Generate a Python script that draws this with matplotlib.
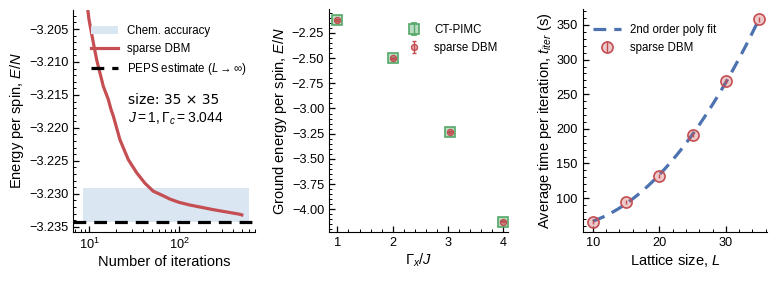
import matplotlib

matplotlib.use("Agg")
import matplotlib.pyplot as plt
import numpy as np
from matplotlib.patches import Patch
from matplotlib.lines import Line2D
from matplotlib.ticker import FuncFormatter

# panel (a): convergence of sparse DBM, 35x35 lattice
iterations = [9.3, 9.92, 11.08, 12.08, 14.3, 16.26, 17.42, 18.48, 21.9, 27.1, 33.6,
              41.6, 51.4, 66.4, 78.8, 100, 131.5, 238.7, 472.4, 497]
energy_iter = [-3.2005, -3.2036, -3.2071, -3.2097, -3.2137, -3.2157, -3.2172, -3.2182,
               -3.2218, -3.2248, -3.2268, -3.2284, -3.2296, -3.2303, -3.2308, -3.2313,
               -3.2317, -3.2324, -3.2331, -3.2332]
peps_energy = -3.2342
chem_band = (-3.2342, -3.2291)
band_x = (8.4, 590)

# panel (b): ground energy vs transverse field
gamma = [1.0, 2.0, 3.044, 4.0]
e_pimc = [-2.122, -2.502, -3.234, -4.124]
e_pimc_err = [0.004, 0.004, 0.004, 0.004]
e_dbm = [-2.122, -2.503, -3.234, -4.124]
e_dbm_err = [0.006, 0.006, 0.006, 0.006]

# panel (c): time per iteration vs lattice size
lattice = [10, 15, 20, 25, 30, 35]
t_iter = [66, 94, 132, 191, 269, 358]
t_err = [3, 3, 3, 3, 3, 3]

RED = "#c44e52"
GREEN = "#55a868"
BLUE = "#4c72b0"
BAND = "#dae6f2"

plt.rcParams["font.family"] = ["Liberation Sans", "DejaVu Sans"]
plt.rcParams["mathtext.fontset"] = "custom"
plt.rcParams["mathtext.rm"] = "Liberation Sans"
plt.rcParams["mathtext.it"] = "Liberation Sans:italic"
plt.rcParams["xtick.direction"] = "in"
plt.rcParams["ytick.direction"] = "in"
plt.rcParams["xtick.labelsize"] = 9.2
plt.rcParams["ytick.labelsize"] = 9.2
plt.rcParams["axes.labelsize"] = 10.5


def style(ax):
    ax.spines["top"].set_visible(False)
    ax.spines["right"].set_visible(False)
    ax.minorticks_on()
    ax.tick_params(which="major", length=4, width=0.9)
    ax.tick_params(which="minor", length=2.2, width=0.7)


fig = plt.figure(figsize=(7.78, 2.83), dpi=100)
ax1 = fig.add_axes([0.094, 0.180, 0.234, 0.785])
ax2 = fig.add_axes([0.423, 0.180, 0.230, 0.788])
ax3 = fig.add_axes([0.749, 0.180, 0.237, 0.788])

# ---- panel (a)
ax1.fill_between(band_x, chem_band[0], chem_band[1], color=BAND, lw=0, zorder=0)
ax1.plot(iterations, energy_iter, color=RED, lw=2.3, zorder=2)
ax1.axhline(peps_energy, color="black", ls=(0, (4, 2.5)), lw=2.3, zorder=3)
ax1.set_xscale("log")
ax1.set_xlim(6.6, 700)
ax1.set_ylim(-3.2358, -3.2021)
ax1.set_yticks([-3.205, -3.210, -3.215, -3.220, -3.225, -3.230, -3.235])
ax1.yaxis.set_major_formatter(FuncFormatter(lambda v, p: f"{v:.3f}".replace("-", "\u2212")))
style(ax1)
ax1.set_xlabel("Number of iterations", labelpad=2)
ax1.set_ylabel("Energy per spin, $E/N$", labelpad=2)
handles = [
    Patch(facecolor=BAND, edgecolor="none"),
    Line2D([], [], color=RED, lw=2.3),
    Line2D([], [], color="black", ls=(0, (4, 2.5)), lw=2.3),
]
ax1.legend(handles, ["Chem. accuracy", "sparse DBM", r"PEPS estimate ($L\rightarrow\infty$)"],
           loc="upper left", bbox_to_anchor=(0.04, 0.98), frameon=False, fontsize=8.3,
           handlelength=2.4, labelspacing=0.55, handletextpad=0.7)
ax1.text(0.30, 0.625, "size: 35 \u00d7 35\n$J=1, \\Gamma_c=3.044$", transform=ax1.transAxes,
         fontsize=10, family="DejaVu Sans", va="top", linespacing=1.3)

# ---- panel (b)
ax2.errorbar(gamma, e_pimc, yerr=e_pimc_err, fmt="s", ms=7.5, color=GREEN,
             mfc=(0.33, 0.66, 0.41, 0.4), mec=GREEN, mew=1.2, elinewidth=1.0,
             capsize=2, label="CT-PIMC", zorder=2)
ax2.errorbar(gamma, e_dbm, yerr=e_dbm_err, fmt="o", ms=4.3, color=RED,
             mfc=(0.77, 0.31, 0.32, 0.45), mec=RED, mew=1.0, elinewidth=1.0,
             capsize=1.5, label="sparse DBM", zorder=3)
ax2.set_xlim(0.85, 4.085)
ax2.set_ylim(-4.226, -2.014)
ax2.set_xticks([1, 2, 3, 4])
ax2.set_yticks([-2.25, -2.5, -2.75, -3.0, -3.25, -3.5, -3.75, -4.0])
style(ax2)
ax2.set_xlabel(r"$\Gamma_x/J$", labelpad=2)
ax2.set_ylabel("Ground energy per spin, $E/N$", labelpad=2)
ax2.legend(loc="upper right", frameon=False, fontsize=8.3, labelspacing=0.55,
           bbox_to_anchor=(1.0, 0.98))

# ---- panel (c)
coef = np.polyfit(lattice, t_iter, 2)
lfit = np.linspace(lattice[0], lattice[-1], 200)
ax3.plot(lfit, np.polyval(coef, lfit), color=BLUE, ls=(0, (4, 2.5)), lw=2.3,
         label="2nd order poly fit", zorder=2)
ax3.errorbar(lattice, t_iter, yerr=t_err, fmt="o", ms=8, color=RED,
             mfc=(0.77, 0.31, 0.32, 0.3), mec=RED, mew=1.2, elinewidth=1.0,
             capsize=0, label="sparse DBM", zorder=3)
ax3.set_xlim(8.5, 36.2)
ax3.set_ylim(51, 373)
ax3.set_xticks([10, 20, 30])
ax3.set_yticks([100, 150, 200, 250, 300, 350])
style(ax3)
ax3.set_xlabel("Lattice size, $L$", labelpad=2)
ax3.set_ylabel("Average time per iteration, $t_{iter}$ (s)", labelpad=2)
ax3.legend(loc="upper left", frameon=False, fontsize=8.3, labelspacing=0.55,
           handlelength=2.4, bbox_to_anchor=(0.0, 0.98))

fig.savefig("out.png", dpi=100)
